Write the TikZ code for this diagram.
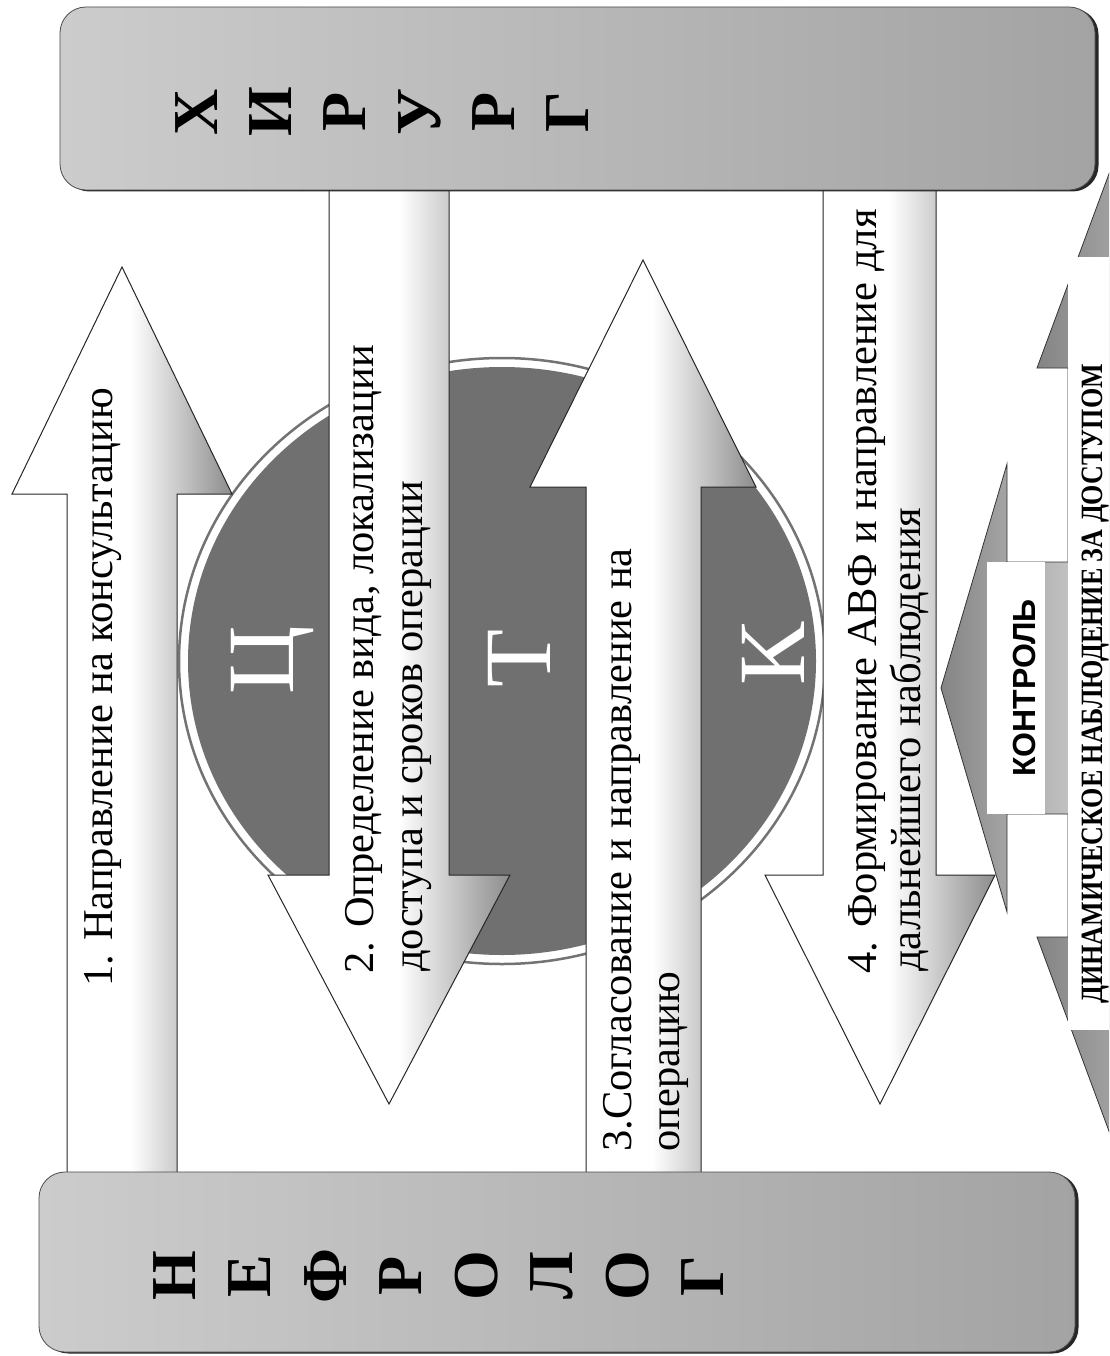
\documentclass[tikz,border=0pt]{standalone}
\usepackage{fontspec}
\usepackage{graphicx}
\setmainfont{Liberation Serif}
\newfontfamily\sansf{Liberation Sans}
\pgfdeclarehorizontalshading{arrowshade}{100bp}{color(0bp)=(white); color(25bp)=(white); color(52bp)=(white); color(75bp)=(black!45); color(100bp)=(black!45)}
\tikzset{
  docbox/.style={draw=black!70, line width=0.8pt, rounded corners=26pt, left color=black!20, right color=black!36, inner sep=0pt},
  docshadow/.style={fill=black!85, rounded corners=26pt},
  blockarrow/.style={draw=black!85, line width=1pt, shading=arrowshade},
  grayarrow/.style={draw=black!80, line width=0.8pt, left color=black!48, right color=black!22},
  boxletter/.style={rotate=90, anchor=base, inner sep=0pt, font=\bfseries\fontsize{64}{64}\selectfont},
  circletter/.style={rotate=90, anchor=base, inner sep=0pt, text=white, font=\fontsize{95}{95}\selectfont},
  arrowtext/.style={rotate=90, anchor=base west, inner sep=0pt, font=\fontsize{42.5}{42.5}\selectfont},
}
\begin{document}
\begin{tikzpicture}[x=1pt,y=-1pt]
\useasboundingbox (0,0) rectangle (1109,1356);
\clip (0,0) rectangle (1109,1356);
\fill[white] (0,0) rectangle (1109,1356);

% central disc
\fill[white, draw=black!55, line width=2.5pt] (502,661) ellipse [x radius=323pt, y radius=303pt];
\fill[black!56] (502,661) ellipse [x radius=314pt, y radius=294pt];

% dynamic observation double arrow (right edge)
\path[grayarrow] (1068,368) -- (1037,368) -- (1126,128) -- (1215,368) -- (1184,368) -- (1184,937) -- (1215,937) -- (1126,1177) -- (1037,937) -- (1068,937) -- cycle;
% control arrow
\path[grayarrow] (941,688) -- (1007,464) -- (1007,562) -- (1080,562) -- (1080,814) -- (1007,814) -- (1007,912) -- cycle;
\fill[white] (1068,257) rectangle (1200,1030);
\node[fill=white, minimum width=58pt, minimum height=252pt, inner sep=0pt] (ctrlbox) at (1016,688) {};

% main arrows
\path[blockarrow] (67,1177) -- (67,494) -- (12,494) -- (122,267) -- (232,494) -- (177,494) -- (177,1177) -- cycle;
\path[blockarrow] (329,185) -- (329,875) -- (268,875) -- (389,1104) -- (510,875) -- (449,875) -- (449,185) -- cycle;
\path[blockarrow] (586,1177) -- (586,487) -- (530,487) -- (643,260) -- (756,487) -- (701,487) -- (701,1177) -- cycle;
\path[blockarrow] (823,185) -- (823,875) -- (765,875) -- (880,1104) -- (995,875) -- (936,875) -- (936,185) -- cycle;

% boxes
\fill[docshadow] (63.5,8.5) rectangle (1098.5,191.5);
\node[docbox, minimum width=1035pt, minimum height=183pt] (hir) at (577.5,98.5) {};
\fill[docshadow] (42.5,1173.5) rectangle (1078.5,1353.5);
\node[docbox, minimum width=1036pt, minimum height=180pt] (nef) at (557,1262) {};

% letters of the boxes
\node[boxletter] (h1) at (217,112) {Х};
\node[boxletter] (h2) at (291,112) {И};
\node[boxletter] (h3) at (365,112) {Р};
\node[boxletter] (h4) at (440,112) {У};
\node[boxletter] (h5) at (514,112) {Р};
\node[boxletter] (h6) at (588,112) {Г};
\node[boxletter] (n1) at (195,1276) {Н};
\node[boxletter] (n2) at (270.5,1276) {Е};
\node[boxletter] (n3) at (346,1276) {Ф};
\node[boxletter] (n4) at (421.5,1276) {Р};
\node[boxletter] (n5) at (497,1276) {О};
\node[boxletter] (n6) at (572.5,1276) {Л};
\node[boxletter] (n7) at (648,1276) {О};
\node[boxletter] (n8) at (723.5,1276) {Г};

% letters of the disc
\node[circletter] (c1) at (293,660) {Ц};
\node[circletter] (c2) at (550,658) {Т};
\node[circletter] (c3) at (804,654) {К};

% arrow texts
\node[arrowtext] (t1) at (112,987) {1. Направление на консультацию};
\node[arrowtext] (t2a) at (373,974) {2. Определение вида, локализации};
\node[arrowtext] (t2b) at (422,972) {доступа и сроков операции};
\node[arrowtext] (t3a) at (631,1152) {3.Согласование и направление на};
\node[arrowtext] (t3b) at (679,1152) {операцию};
\node[arrowtext] (t4a) at (876,974) {4. Формирование АВФ и направление для};
\node[arrowtext] (t4b) at (920,972) {дальнейшего наблюдения};

\node[rotate=90, anchor=base, inner sep=0pt, font=\sansf\bfseries\fontsize{32}{32}\selectfont] (ctrl) at (1035,688) {КОНТРОЛЬ};
\node[rotate=90, anchor=base west, inner sep=0pt, font=\bfseries\fontsize{31}{31}\selectfont] (dyn) at (1102,1004) {\scalebox{0.84}[1]{ДИНАМИЧЕСКОЕ НАБЛЮДЕНИЕ ЗА ДОСТУПОМ}};
\end{tikzpicture}
\end{document}
